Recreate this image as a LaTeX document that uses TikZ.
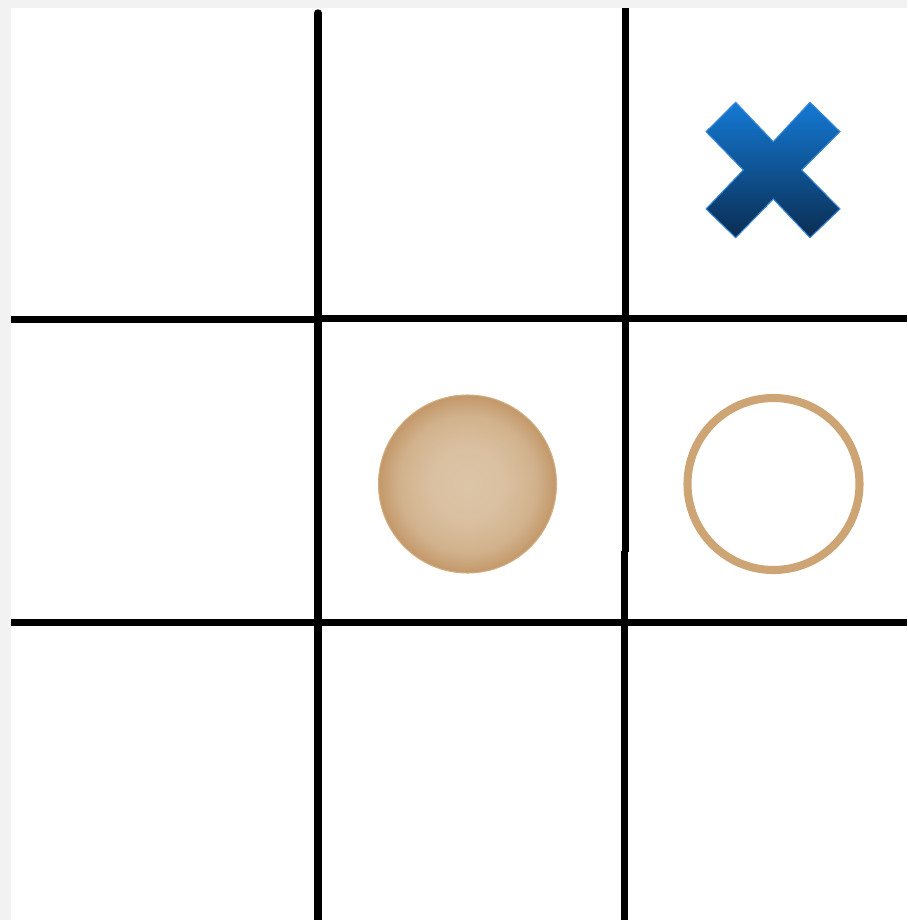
\documentclass[tikz,border=0pt]{standalone}
\usepackage{tikz}
\definecolor{pagegray}{HTML}{F2F2F2}
\definecolor{crosstop}{HTML}{1479D4}
\definecolor{crossbot}{HTML}{0A2D52}
\definecolor{crossedge}{HTML}{3A8AD8}
\definecolor{stonein}{HTML}{DCC4A6}
\definecolor{stoneout}{HTML}{C39869}
\definecolor{ringcol}{HTML}{CDA575}
\pgfdeclareradialshading{stoneshade}{\pgfpoint{0bp}{0bp}}{%
  color(0bp)=(stonein); color(10bp)=(stonein!92!stoneout);
  color(19bp)=(stonein!60!stoneout); color(25bp)=(stoneout);
  color(50bp)=(stoneout)}
\tikzset{
  gridline/.style={line width=4.2pt, black},
}
\begin{document}
\begin{tikzpicture}[x=0.02cm, y=-0.02cm]
% Background (page margin, then the board)
\fill[pagegray] (0,0) rectangle (907,920);
\fill[white] (11,8) rectangle (907,920);
\clip (0,0) rectangle (907,920);
% Grid lines
\draw[gridline, line cap=round] (318,13) -- (318,935);
\draw[gridline] (625.8,8) -- (625.8,552);
\draw[gridline] (624.3,551) -- (624.3,920);
\draw[gridline] (11,319.7) -- (318,319.7);
\draw[gridline] (318,318.2) -- (907,318.2);
\draw[gridline] (11,622.8) -- (907,622.8);
% Cross, top right cell
\shade[top color=crosstop, bottom color=crossbot, draw=crossedge, line width=0.6pt]
  (735.7,102.3) -- (773.3,141.7) -- (810,102.3) -- (840,131.7) -- (801.7,170)
  -- (840,209) -- (810,237.7) -- (773.3,199) -- (735.7,237.7) -- (706,209)
  -- (743.3,170) -- (706,131.7) -- cycle;
% Filled stone, centre cell
\shade[shading=stoneshade, draw=ringcol!90, line width=0.6pt]
  (467.5,484) circle [radius=89];
% Empty ring, right cell
\draw[ringcol, line width=4.6pt] (773.5,484) circle [radius=86];
\end{tikzpicture}
\end{document}
